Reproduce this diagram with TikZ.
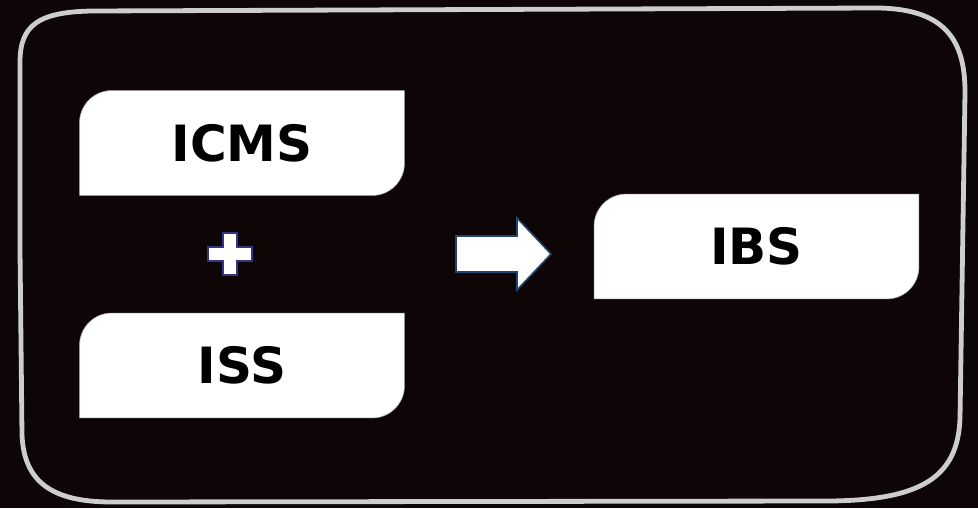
\documentclass[tikz,border=0pt]{standalone}
\usepackage{fontspec}
\setmainfont{DejaVu Sans}
\usetikzlibrary{calc}
\definecolor{bgdark}{RGB}{14,6,6}
\definecolor{framegrey}{RGB}{205,205,205}
\definecolor{plusnavy}{RGB}{52,52,130}
\definecolor{arrowblue}{RGB}{31,70,115}
\tikzset{
  labelbox/.style={minimum width=162pt, minimum height=52pt, inner sep=0pt,
    font=\fontsize{25}{30}\selectfont\bfseries, text=black},
}
\newcommand{\cutbox}[1]{%
  \fill[white, draw=gray!60, line width=0.3pt]
    ([yshift=-16pt]#1.north west)
    .. controls ([yshift=-7.2pt]#1.north west) and ([xshift=7.2pt]#1.north west) ..
    ([xshift=16pt]#1.north west) -- (#1.north east)
    -- ([yshift=16pt]#1.south east)
    .. controls ([yshift=7.2pt]#1.south east) and ([xshift=-7.2pt]#1.south east) ..
    ([xshift=-16pt]#1.south east) -- (#1.south west) -- cycle;}
\begin{document}
\begin{tikzpicture}[x=0.5pt,y=-0.5pt]
  \fill[bgdark] (0,0) rectangle (978,508);
  \useasboundingbox (0,0) rectangle (978,508);
  % outer frame
  \draw[framegrey, line width=2.4pt, line join=round]
    (20,250) -- (20,62) .. controls (20,24) and (40,12) .. (92,11)
    -- (878,8) .. controls (945,9) and (965,40) .. (965,92)
    -- (960,418) .. controls (958,478) and (920,500) .. (830,501)
    -- (112,502) .. controls (52,502) and (24,482) .. (22,435) -- cycle;
  % boxes
  \node[labelbox] (icms) at (242,143) {};
  \node[labelbox] (iss) at (242,365.5) {};
  \node[labelbox] (ibs) at (756.5,246.5) {};
  \cutbox{icms}\cutbox{iss}\cutbox{ibs}
  \node[labelbox] at (icms) {ICMS};
  \node[labelbox] at (iss) {ISS};
  \node[labelbox] at (ibs) {IBS};
  % plus sign
  \coordinate (plus) at (230,254);
  \filldraw[fill=white, draw=plusnavy, line width=0.8pt]
    ($(plus)+(-7,-21)$) -- ($(plus)+(7,-21)$) -- ($(plus)+(7,-7)$)
    -- ($(plus)+(22,-7)$) -- ($(plus)+(22,7)$) -- ($(plus)+(7,7)$)
    -- ($(plus)+(7,21)$) -- ($(plus)+(-7,21)$) -- ($(plus)+(-7,7)$)
    -- ($(plus)+(-22,7)$) -- ($(plus)+(-22,-7)$) -- ($(plus)+(-7,-7)$) -- cycle;
  % block arrow
  \filldraw[fill=white, draw=arrowblue, line width=0.8pt]
    (456,236) -- (517,236) -- (517,218) -- (551,254) -- (517,290)
    -- (517,272) -- (456,272) -- cycle;
\end{tikzpicture}
\end{document}
